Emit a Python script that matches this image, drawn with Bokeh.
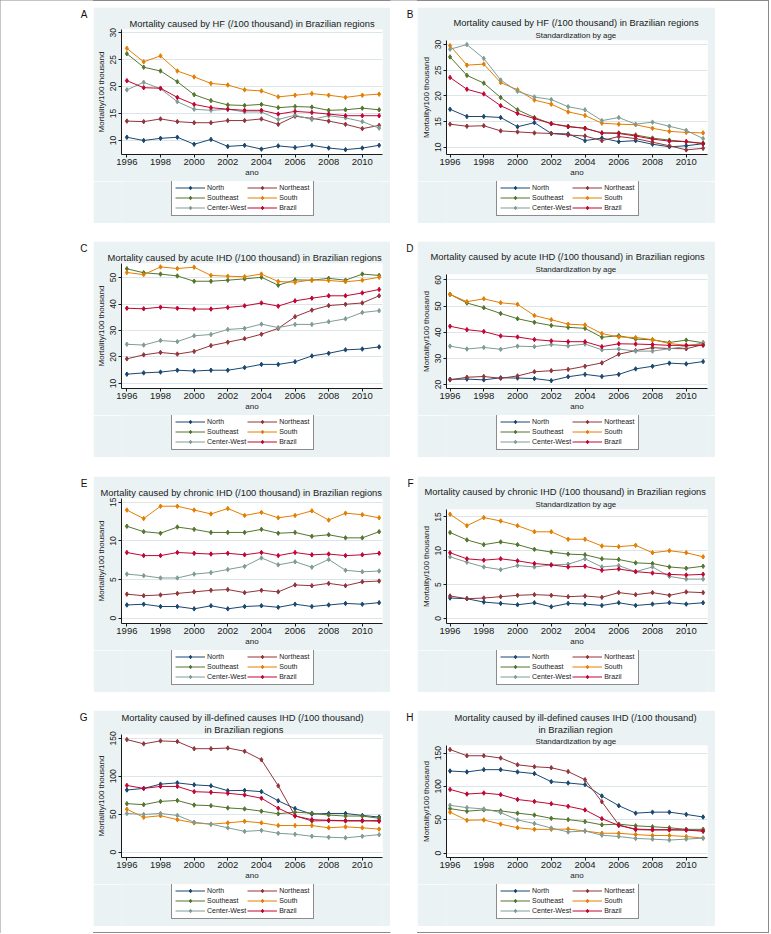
from bokeh.plotting import figure
from bokeh.models import Range1d, FixedTicker, Legend, LegendItem, Title, Spacer, Label
from bokeh.layouts import row, column
from bokeh.embed import file_html
from bokeh.resources import INLINE

years = list(range(1996, 2012))
regions = ["North", "Northeast", "Southeast", "South", "Center-West", "Brazil"]
colors = ["#1A476F", "#90353B", "#55752F", "#E37E00", "#7F9C94", "#C10534"]
x_ticks = [1996, 1998, 2000, 2002, 2004, 2006, 2008, 2010]

# A: HF, crude
A_north = [10.6, 10.0, 10.4, 10.6, 9.3, 10.2, 8.9, 9.1, 8.4, 9.0, 8.7, 9.1, 8.6, 8.3, 8.6, 9.1]
A_northeast = [13.6, 13.5, 14.0, 13.5, 13.3, 13.3, 13.7, 13.7, 14.0, 13.0, 14.5, 14.1, 13.6, 13.0, 12.2, 12.8]
A_southeast = [26.1, 23.6, 22.9, 20.9, 18.5, 17.4, 16.6, 16.5, 16.7, 16.1, 16.3, 16.2, 15.6, 15.7, 16.0, 15.7]
A_south = [27.1, 24.6, 25.7, 22.9, 21.8, 20.6, 20.3, 19.4, 19.2, 18.1, 18.4, 18.7, 18.4, 18.0, 18.4, 18.6]
A_centerwest = [19.4, 20.8, 19.6, 17.2, 15.8, 15.6, 15.8, 15.3, 15.3, 13.9, 14.7, 13.9, 14.6, 14.2, 13.5, 12.3]
A_brazil = [21.1, 19.8, 19.7, 18.0, 16.7, 16.1, 15.8, 15.6, 15.6, 14.9, 15.4, 15.2, 14.9, 14.6, 14.6, 14.6]

# B: HF, age standardized
B_north = [17.4, 16.0, 16.0, 15.8, 14.0, 14.8, 12.7, 12.6, 11.3, 11.8, 11.1, 11.3, 10.6, 10.1, 10.3, 10.7]
B_northeast = [14.5, 14.1, 14.2, 13.2, 13.0, 12.8, 12.7, 12.4, 12.2, 11.3, 12.1, 11.7, 11.0, 10.3, 9.5, 9.8]
B_southeast = [27.6, 24.0, 22.5, 19.7, 17.3, 15.8, 14.6, 14.1, 13.7, 12.8, 12.8, 12.4, 11.8, 11.4, 11.1, 10.8]
B_south = [29.8, 26.0, 26.2, 22.6, 21.2, 19.2, 18.4, 16.9, 16.2, 14.7, 14.5, 14.4, 13.7, 13.1, 12.9, 12.8]
B_centerwest = [29.1, 30.0, 27.3, 23.1, 20.9, 19.8, 19.3, 17.9, 17.3, 15.2, 15.8, 14.5, 14.9, 14.1, 13.3, 11.7]
B_brazil = [23.6, 21.3, 20.4, 18.1, 16.6, 15.6, 14.6, 14.0, 13.7, 12.8, 12.7, 12.2, 11.6, 11.2, 11.1, 10.7]

# C: acute IHD, crude
C_north = [13.5, 14.0, 14.3, 15.0, 14.7, 15.0, 15.0, 16.0, 17.2, 17.2, 18.2, 20.4, 21.4, 22.7, 23.0, 23.8]
C_northeast = [19.3, 20.8, 21.7, 21.1, 22.1, 24.3, 25.6, 26.9, 28.6, 30.8, 35.2, 37.7, 39.4, 39.9, 40.4, 43.1]
C_southeast = [53.3, 51.8, 51.3, 50.6, 48.6, 48.6, 49.0, 49.5, 50.1, 47.1, 49.1, 49.0, 49.7, 49.0, 51.3, 50.8]
C_south = [51.9, 51.1, 54.0, 53.4, 53.9, 50.8, 50.5, 50.3, 51.3, 48.5, 48.2, 49.1, 48.9, 48.4, 49.0, 50.1]
C_centerwest = [24.8, 24.5, 26.2, 25.8, 28.0, 28.5, 30.4, 30.8, 32.4, 31.1, 32.3, 32.3, 33.3, 34.4, 36.8, 37.5]
C_brazil = [38.4, 38.2, 38.8, 38.4, 38.1, 38.1, 38.7, 39.3, 40.4, 39.2, 41.2, 42.2, 43.1, 43.1, 44.2, 45.5]

# D: acute IHD, age standardized
D_north = [22.0, 22.1, 21.8, 22.6, 22.5, 22.3, 21.5, 23.0, 23.9, 23.1, 23.9, 26.0, 27.0, 28.2, 27.9, 28.8]
D_northeast = [21.8, 22.8, 23.1, 22.4, 23.3, 24.9, 25.3, 25.8, 27.0, 28.3, 31.6, 33.0, 34.1, 33.8, 33.7, 35.3]
D_southeast = [54.5, 51.2, 49.4, 47.2, 45.2, 43.8, 42.6, 41.9, 41.5, 38.1, 38.7, 37.4, 37.1, 36.1, 37.0, 36.0]
D_south = [54.5, 51.7, 52.8, 51.3, 50.7, 46.4, 44.8, 43.1, 42.8, 39.5, 38.2, 38.0, 37.2, 35.7, 35.0, 35.5]
D_centerwest = [34.7, 33.6, 34.2, 33.5, 34.7, 34.5, 35.3, 34.8, 35.5, 33.3, 33.6, 32.8, 32.8, 33.7, 34.6, 36.0]
D_brazil = [42.3, 41.0, 40.3, 38.6, 38.2, 37.2, 36.7, 36.4, 36.4, 34.5, 35.6, 35.5, 35.3, 35.0, 35.0, 35.0]

# E: chronic IHD, crude
E_north = [1.7, 1.8, 1.5, 1.5, 1.2, 1.6, 1.2, 1.5, 1.6, 1.4, 1.8, 1.5, 1.7, 1.9, 1.8, 2.0]
E_northeast = [3.1, 2.9, 3.0, 3.2, 3.4, 3.6, 3.7, 3.3, 3.6, 3.4, 4.3, 4.2, 4.5, 4.2, 4.7, 4.8]
E_southeast = [11.9, 11.2, 11.0, 11.8, 11.5, 11.1, 11.1, 11.1, 11.5, 11.0, 11.1, 10.6, 10.8, 10.4, 10.4, 11.2]
E_south = [14.0, 12.9, 14.5, 14.5, 14.0, 13.5, 14.2, 13.3, 13.7, 13.0, 13.3, 13.9, 12.7, 13.6, 13.4, 13.0]
E_centerwest = [5.7, 5.5, 5.2, 5.2, 5.7, 5.9, 6.3, 6.7, 7.8, 6.9, 7.3, 6.6, 7.6, 6.2, 6.0, 6.1]
E_brazil = [8.5, 8.1, 8.1, 8.5, 8.4, 8.3, 8.4, 8.2, 8.5, 8.1, 8.5, 8.2, 8.3, 8.1, 8.2, 8.4]

# F: chronic IHD, age standardized
F_north = [3.0, 2.9, 2.4, 2.2, 2.0, 2.3, 1.7, 2.2, 2.1, 1.9, 2.3, 1.9, 2.1, 2.3, 2.1, 2.3]
F_northeast = [3.3, 2.9, 3.0, 3.2, 3.4, 3.5, 3.4, 3.2, 3.3, 3.1, 3.8, 3.5, 3.8, 3.4, 3.9, 3.8]
F_southeast = [12.7, 11.6, 10.9, 11.3, 10.9, 10.2, 9.8, 9.5, 9.4, 8.8, 8.7, 8.2, 8.1, 7.6, 7.4, 7.7]
F_south = [15.4, 13.7, 14.9, 14.4, 13.7, 12.8, 12.8, 11.7, 11.7, 10.7, 10.6, 10.8, 9.7, 10.0, 9.7, 9.1]
F_centerwest = [9.1, 8.3, 7.6, 7.2, 7.8, 7.6, 7.9, 8.0, 8.8, 7.6, 7.8, 6.9, 7.6, 6.2, 5.8, 5.8]
F_brazil = [9.7, 8.8, 8.6, 8.8, 8.5, 8.1, 7.9, 7.6, 7.7, 7.1, 7.3, 6.9, 6.7, 6.5, 6.4, 6.5]

# G: ill-defined causes, crude
G_north = [81.9, 84.0, 89.6, 91.3, 88.7, 87.4, 81.0, 81.4, 79.7, 67.7, 57.4, 50.1, 51.0, 51.0, 48.4, 46.3]
G_northeast = [148.3, 142.7, 146.6, 145.7, 136.3, 136.3, 137.2, 132.9, 121.7, 87.4, 48.0, 41.1, 41.6, 41.1, 41.1, 42.0]
G_southeast = [63.9, 62.6, 66.9, 68.1, 62.1, 61.3, 58.3, 57.0, 54.0, 50.6, 52.7, 51.4, 48.9, 47.6, 47.6, 44.6]
G_south = [56.6, 45.9, 48.0, 42.9, 38.6, 36.9, 38.6, 40.7, 38.6, 35.1, 35.1, 35.1, 32.1, 33.4, 32.1, 30.4]
G_centerwest = [51.0, 49.7, 51.0, 48.4, 39.4, 36.9, 32.1, 27.4, 28.7, 24.9, 23.6, 21.0, 19.7, 18.9, 21.0, 23.1]
G_brazil = [87.9, 84.0, 86.6, 86.6, 79.7, 78.9, 77.6, 75.4, 71.1, 57.9, 47.6, 42.9, 42.0, 41.6, 41.6, 40.7]

# H: ill-defined causes, age standardized
H_north = [123.2, 121.8, 125.2, 125.2, 121.8, 119.3, 107.2, 105.2, 102.8, 85.7, 71.1, 59.9, 61.4, 61.4, 58.0, 54.1]
H_northeast = [155.4, 146.1, 146.1, 142.7, 132.5, 129.6, 128.1, 122.3, 110.1, 77.0, 42.4, 35.1, 34.6, 34.6, 34.6, 34.1]
H_southeast = [66.7, 62.8, 64.8, 63.3, 59.9, 57.0, 52.1, 50.2, 47.2, 42.4, 43.4, 40.9, 39.5, 38.0, 35.6, 35.6]
H_south = [61.4, 49.2, 49.7, 43.4, 38.0, 35.6, 35.6, 36.0, 33.1, 29.7, 29.7, 27.8, 26.3, 26.3, 24.8, 22.4]
H_centerwest = [71.6, 68.2, 66.2, 60.9, 49.7, 44.3, 37.5, 31.7, 33.1, 26.8, 24.8, 21.9, 20.9, 19.5, 20.9, 22.4]
H_brazil = [95.5, 88.6, 90.1, 87.7, 80.4, 77.4, 74.0, 70.1, 64.8, 51.6, 41.4, 36.0, 35.1, 35.1, 34.6, 32.6]

T_HF = ["Mortality caused by HF (/100 thousand) in Brazilian regions"]
T_AC = ["Mortality caused by acute IHD (/100 thousand) in Brazilian regions"]
T_CH = ["Mortality caused by chronic IHD (/100 thousand) in Brazilian regions"]
T_IG = ["Mortality caused by ill-defined causes IHD (/100 thousand)", "in Brazilian regions"]
T_IH = ["Mortality caused by ill-defined causes IHD (/100 thousand)", "in Brazilian region"]
SUB = "Standardization by age"

panels = {
    "A": (T_HF, None, [A_north, A_northeast, A_southeast, A_south, A_centerwest, A_brazil], (7.4, 30.6), [10, 15, 20, 25, 30]),
    "B": (T_HF, SUB, [B_north, B_northeast, B_southeast, B_south, B_centerwest, B_brazil], (8.6, 30.8), [10, 15, 20, 25, 30]),
    "C": (T_AC, None, [C_north, C_northeast, C_southeast, C_south, C_centerwest, C_brazil], (8.1, 55.3), [10, 20, 30, 40, 50]),
    "D": (T_AC, SUB, [D_north, D_northeast, D_southeast, D_south, D_centerwest, D_brazil], (18.5, 62.1), [20, 30, 40, 50, 60]),
    "E": (T_CH, None, [E_north, E_northeast, E_southeast, E_south, E_centerwest, E_brazil], (-0.7, 15.5), [0, 5, 10, 15]),
    "F": (T_CH, SUB, [F_north, F_northeast, F_southeast, F_south, F_centerwest, F_brazil], (-0.77, 16.1), [0, 5, 10, 15]),
    "G": (T_IG, None, [G_north, G_northeast, G_southeast, G_south, G_centerwest, G_brazil], (-7, 155), [0, 50, 100, 150]),
    "H": (T_IH, SUB, [H_north, H_northeast, H_southeast, H_south, H_centerwest, H_brazil], (-6.7, 161.5), [0, 50, 100, 150]),
}

# layout (pixels)
FONT = "Liberation Sans"
BG = "#EAF2F3"
INK = "#1a1a1a"
PANEL_H = 216
PLOT_H = 174
LEG_H = PANEL_H - PLOT_H
TOTAL_H = 933
TITLE_OFFSETS = {"A": [8], "B": [7], "C": [-14], "D": [-16], "E": [-21], "F": [-22],
                 "G": [0, 83], "H": [8, 92]}
TOP_BORDER = {"A": 22, "B": 33, "C": 22, "D": 33, "E": 22, "F": 33, "G": 23, "H": 33}


def make_panel(letter, right_col):
    title_lines, subtitle, series, yr, yticks = panels[letter]
    width = 298 if right_col else 297
    left = 29 if right_col else 27
    xr = (1995.79, 2011.26) if right_col else (1995.68, 2011.2)
    p = figure(width=width, height=PLOT_H, x_range=Range1d(*xr), y_range=Range1d(*yr),
               min_border_left=left, min_border_right=8, min_border_top=TOP_BORDER[letter],
               min_border_bottom=27, toolbar_location=None, output_backend="svg", title=None)
    p.background_fill_color = "white"
    p.border_fill_color = BG
    p.outline_line_color = None

    n = len(title_lines)
    if subtitle:
        p.add_layout(Title(text=subtitle, align="left", offset=89, text_font=FONT,
                           text_font_size="7.9px", text_font_style="normal", text_color=INK,
                           standoff=2 if n == 1 else 0), "above")
    offs = TITLE_OFFSETS[letter]
    for k in range(n - 1, -1, -1):
        closest = (not subtitle) and n == 1
        p.add_layout(Title(text=title_lines[k], align="left", offset=offs[k], text_font=FONT,
                           text_font_size="9.35px", text_font_style="normal", text_color=INK,
                           standoff=2 if closest else 0), "above")

    p.xgrid.visible = False
    p.ygrid.grid_line_color = "#DCE5E9"

    xa = p.xaxis[0]
    xa.ticker = FixedTicker(ticks=x_ticks)
    xa.minor_tick_line_color = None
    xa.major_tick_in = 0
    xa.major_tick_out = 3
    xa.axis_line_color = INK
    xa.major_tick_line_color = INK
    xa.major_label_text_font = FONT
    xa.major_label_text_font_size = "9.5px"
    xa.major_label_text_color = INK
    xa.major_label_standoff = 1
    xa.axis_label = "ano"
    xa.axis_label_text_font = FONT
    xa.axis_label_text_font_size = "8px"
    xa.axis_label_text_font_style = "normal"
    xa.axis_label_text_color = INK
    xa.axis_label_standoff = 0

    ya = p.yaxis[0]
    ya.ticker = FixedTicker(ticks=yticks)
    ya.minor_tick_line_color = None
    ya.major_tick_in = 0
    ya.major_tick_out = 3
    ya.axis_line_color = INK
    ya.major_tick_line_color = INK
    ya.major_label_orientation = "vertical"
    ya.major_label_text_font = FONT
    ya.major_label_text_font_size = "8.5px"
    ya.major_label_text_color = INK
    ya.major_label_standoff = 2
    ya.axis_label = "Mortality/100 thousand"
    ya.axis_label_text_font = FONT
    ya.axis_label_text_font_size = "8px"
    ya.axis_label_text_font_style = "normal"
    ya.axis_label_text_color = INK
    ya.axis_label_standoff = 2

    for col, vals in zip(colors, series):
        p.line(years, vals, line_color=col, line_width=1.0)
        p.scatter(years, vals, marker="diamond", size=4.5, fill_color=col, line_color=col)

    # legend strip: same series, drawn outside its visible range; only the legend shows
    lf = figure(width=width, height=LEG_H, x_range=Range1d(0, 1), y_range=Range1d(0, 1),
                min_border_left=left, min_border_right=8, min_border_top=0, min_border_bottom=0,
                toolbar_location=None, output_backend="svg", title=None,
                x_axis_location=None, y_axis_location=None)
    lf.background_fill_color = BG
    lf.border_fill_color = BG
    lf.outline_line_color = None
    lf.xgrid.visible = False
    lf.ygrid.visible = False
    items = []
    for name, col, vals in zip(regions, colors, series):
        ln = lf.line(years, vals, line_color=col, line_width=1.0)
        pt = lf.scatter(years, vals, marker="diamond", size=4.5, fill_color=col, line_color=col)
        items.append(LegendItem(label=name, renderers=[ln, pt]))
    leg = Legend(items=items, location=(50, 7), orientation="horizontal", nrows=3,
                 label_text_font=FONT, label_text_font_size="7px", label_text_color=INK,
                 glyph_width=30, glyph_height=9, label_height=9, label_standoff=2,
                 spacing=1, padding=3, margin=0, border_line_color=INK, border_line_width=1,
                 background_fill_color="white", background_fill_alpha=1.0)
    lf.add_layout(leg)
    return p, lf


def letter_strip(width, letters, right_x):
    f = figure(width=width, height=TOTAL_H, x_range=Range1d(0, 1), y_range=Range1d(0, 1),
               min_border_left=0, min_border_right=0, min_border_top=0, min_border_bottom=0,
               toolbar_location=None, output_backend="svg", title=None,
               x_axis_location=None, y_axis_location=None)
    f.background_fill_color = "white"
    f.border_fill_color = "white"
    f.outline_line_color = None
    f.xgrid.visible = False
    f.ygrid.visible = False
    for txt, top in letters:
        f.add_layout(Label(x=right_x, y=TOTAL_H - top, x_units="screen", y_units="screen",
                           text=txt, text_align="right", text_baseline="middle",
                           text_font=FONT, text_font_size="10px", text_color="#111111"))
    return f


PANEL_TOPS = [7, 241, 476, 710]
GAPS = [7, 18, 19, 18, 7]


def build_col(letters, right_col, width):
    kids = [Spacer(width=width, height=GAPS[0])]
    for i, L in enumerate(letters):
        p, lf = make_panel(L, right_col)
        kids += [p, lf, Spacer(width=width, height=GAPS[i + 1])]
    return column(*kids)


col_left = build_col(["A", "C", "E", "G"], False, 297)
col_right = build_col(["B", "D", "F", "H"], True, 298)
strip_left = letter_strip(93, [(l, t + 6.5) for l, t in zip("ACEG", PANEL_TOPS)], 87)
strip_mid = letter_strip(27, [(l, t + 6.5) for l, t in zip("BDFH", PANEL_TOPS)], 23)

root = row(strip_left, col_left, strip_mid, col_right, Spacer(width=54, height=TOTAL_H),
           stylesheets=[":host { box-shadow: inset 0 0 0 1px #8a8a8a; }"])

open("out.html", "w").write(file_html(root, INLINE))
